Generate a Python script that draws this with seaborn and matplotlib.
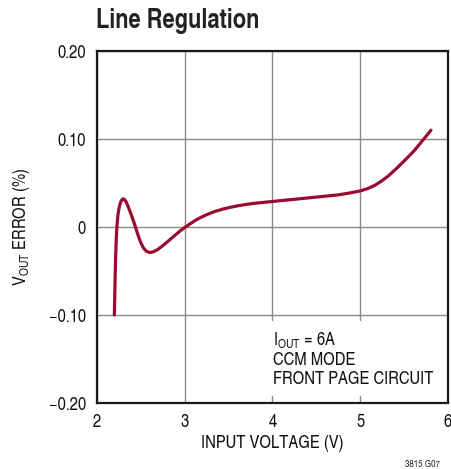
import matplotlib
matplotlib.use("Agg")
import matplotlib.pyplot as plt
from matplotlib.patches import Rectangle
import seaborn as sns
import pandas as pd

# ---- data ----
vin = [2.198, 2.205, 2.212, 2.220, 2.228, 2.238, 2.25, 2.265, 2.28, 2.295, 2.31,
       2.33, 2.36, 2.39, 2.42, 2.445, 2.47, 2.50, 2.53, 2.565, 2.60, 2.64, 2.69,
       2.74, 2.80, 2.87, 2.94, 3.00, 3.06, 3.12, 3.18, 3.25, 3.33, 3.42, 3.52,
       3.61, 3.71, 3.80, 3.90, 4.00, 4.15, 4.30, 4.45, 4.60, 4.75, 4.90, 5.00,
       5.08, 5.16, 5.24, 5.32, 5.415, 5.51, 5.605, 5.70, 5.806]
vout_err = [-0.100, -0.065, -0.035, -0.012, 0.002, 0.013, 0.021, 0.027, 0.0305,
            0.032, 0.0315, 0.029, 0.022, 0.014, 0.0055, -0.002, -0.010, -0.018,
            -0.024, -0.0277, -0.0290, -0.0283, -0.0257, -0.0220, -0.0170, -0.0110,
            -0.0050, -0.0005, 0.0035, 0.0075, 0.0108, 0.0140, 0.0172, 0.0200,
            0.0224, 0.0242, 0.0258, 0.0270, 0.0280, 0.0290, 0.0305, 0.0320,
            0.0335, 0.0350, 0.0365, 0.0390, 0.0410, 0.0435, 0.0470, 0.0520,
            0.0580, 0.0667, 0.0760, 0.0856, 0.0970, 0.110]
x_ticks = [2, 3, 4, 5, 6]
x_ticklabels = ["2", "3", "4", "5", "6"]
y_ticks = [-0.20, -0.10, 0.0, 0.10, 0.20]
y_ticklabels = ["\u22120.20", "\u22120.10", "0", "0.10", "0.20"]
title = "Line Regulation"
xlabel = "INPUT VOLTAGE (V)"
ylabel = r"$\mathrm{V_{OUT}}$ ERROR (%)"
note_lines = [r"$\mathrm{I_{OUT}}$ = 6A", "CCM MODE", "FRONT PAGE CIRCUIT"]
code = "3815 G07"

sns.set_theme(style="white")
FONT = ["TeX Gyre Heros Cn", "DejaVu Sans"]
plt.rcParams["font.family"] = FONT
plt.rcParams["mathtext.fontset"] = "custom"
plt.rcParams["mathtext.rm"] = "TeX Gyre Heros Cn"
plt.rcParams["mathtext.it"] = "TeX Gyre Heros Cn"
plt.rcParams["mathtext.default"] = "rm"

df = pd.DataFrame({"vin": vin, "err": vout_err})

fig = plt.figure(figsize=(4.52, 4.69), dpi=100)
ax = fig.add_axes([97 / 452, 1 - 403 / 469, 351 / 452, 352 / 469])

# grid lines drawn manually (below everything)
for xv in x_ticks:
    ax.axvline(xv, color="#8a8a8a", lw=1.0, zorder=0.5)
for yv in y_ticks:
    ax.axhline(yv, color="#8a8a8a", lw=1.0, zorder=0.5)

sns.lineplot(data=df, x="vin", y="err", sort=False, estimator=None,
             color="#9a0a32", lw=2.3, ax=ax, zorder=3)

ax.set_xlim(2, 6)
ax.set_ylim(-0.2, 0.2)
ax.set_xticks(x_ticks)
ax.set_xticklabels(x_ticklabels)
ax.set_yticks(y_ticks)
ax.set_yticklabels(y_ticklabels)
ax.tick_params(axis="both", direction="in", length=5, width=1.0, color="#555555",
               labelsize=13, labelcolor="#111111", pad=8)
ax.set_axisbelow(False)
for s in ax.spines.values():
    s.set_color("#1a1a1a")
    s.set_linewidth(1.6)
    s.set_zorder(4)

ax.set_xlabel(xlabel, fontsize=13, color="#111111", labelpad=3)
ax.set_ylabel(ylabel, fontsize=13, color="#111111", labelpad=12)

# white panel behind the note (hides the grid, keeps the ticks)
ax.add_patch(Rectangle((0.48, 0.02), 0.52, 0.212, transform=ax.transAxes,
                       facecolor="white", edgecolor="none", zorder=1))
ax.text(4.01, -0.1165, "\n".join(note_lines), fontsize=13, color="#111111",
        va="top", ha="left", linespacing=1.17, zorder=2)

fig.text(96 / 452, 1 - 28 / 469, title, fontsize=19.2, fontweight="bold",
         color="#222222", ha="left", va="baseline")
fig.text(440 / 452, 1 - 467 / 469, code, fontsize=7, color="#222222",
         ha="right", va="baseline")

fig.savefig("out.png", dpi=100)
